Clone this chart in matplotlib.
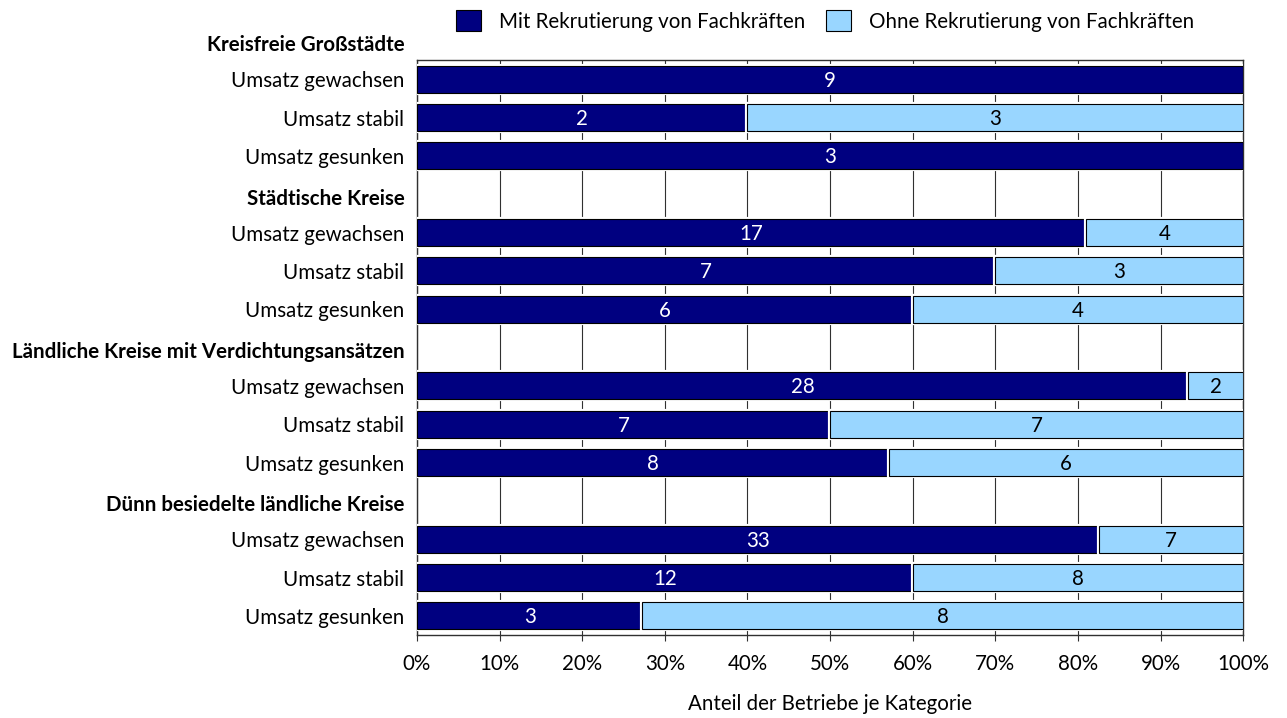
import numpy as np
import matplotlib
matplotlib.use("Agg")
import matplotlib.pyplot as plt
import matplotlib.transforms as mtransforms
from matplotlib import patheffects as pe
from matplotlib.patches import Patch

plt.rcParams['font.family'] = ['Lato', 'DejaVu Sans']

# Daten (Anzahl Betriebe)
groups = ["Kreisfreie Großstädte", "Städtische Kreise",
          "Ländliche Kreise mit Verdichtungsansätzen",
          "Dünn besiedelte ländliche Kreise"]
rows = ["Umsatz gewachsen", "Umsatz stabil", "Umsatz gesunken"]
mit = [9, 2, 3, 17, 7, 6, 28, 7, 8, 33, 12, 3]
ohne = [0, 3, 0, 4, 3, 4, 2, 7, 6, 7, 8, 8]
x_ticks = [0, 10, 20, 30, 40, 50, 60, 70, 80, 90, 100]

navy = '#000080'
light = '#99d6ff'
fs = 14.8

mit = np.array(mit, dtype=float)
ohne = np.array(ohne, dtype=float)
total = mit + ohne
p_mit = mit / total * 100
p_ohne = ohne / total * 100

# Position: je Gruppe eine Kopfzeile + drei Zeilen
ypos = []
labels = []
for g in range(len(groups)):
    for r in range(len(rows)):
        ypos.append(g * 4 + r)
        labels.append(rows[r])
ypos = np.array(ypos)
head_pos = [g * 4 - 1 for g in range(len(groups))]

fig = plt.figure(figsize=(12.87, 7.18), dpi=100)
ax = fig.add_axes([0.324, 0.1156, 0.642, 0.8008])

stroke = [pe.Stroke(linewidth=3, foreground='white'), pe.Normal()]
b1 = ax.barh(ypos, p_mit, height=0.7, color=navy, edgecolor='black',
             linewidth=0.8, zorder=3)
b2 = ax.barh(ypos, p_ohne, left=p_mit, height=0.7, color=light,
             edgecolor='black', linewidth=0.8, zorder=3)
for bar in list(b1) + list(b2):
    if bar.get_width() > 0:
        bar.set_path_effects(stroke)

for i, y in enumerate(ypos):
    if mit[i] > 0:
        ax.text(p_mit[i] / 2, y + 0.04, f"{int(mit[i])}", ha='center', va='center',
                color='white', fontsize=fs, zorder=4)
    if ohne[i] > 0:
        ax.text(p_mit[i] + p_ohne[i] / 2, y + 0.04, f"{int(ohne[i])}", ha='center',
                va='center', color='black', fontsize=fs, zorder=4)

ax.set_xlim(0, 100)
ax.set_ylim(14.5, -0.5)
ax.set_xticks(x_ticks)
ax.set_xticklabels([f"{t}%" for t in x_ticks], fontsize=fs)
ax.set_yticks(ypos)
ax.set_yticklabels(labels, fontsize=fs)
ax.tick_params(axis='y', length=0, pad=9)
ax.tick_params(axis='x', direction='out', length=4, pad=10, color='#303030')
ax.grid(axis='x', color='#303030', linewidth=0.8, zorder=0)
ax.set_axisbelow(True)
for s in ax.spines.values():
    s.set_color('#303030')
    s.set_linewidth(1)

trans = mtransforms.blended_transform_factory(ax.transAxes, ax.transData)
off = mtransforms.ScaledTranslation(-9 / 72, 0, fig.dpi_scale_trans)
for g, hp in enumerate(head_pos):
    ax.text(0, hp + 0.12, groups[g], transform=trans + off, ha='right',
            va='center', fontsize=fs, fontweight='bold', clip_on=False)

ax.set_xlabel("Anteil der Betriebe je Kategorie", fontsize=fs, labelpad=14)

handles = [Patch(facecolor=navy, edgecolor='black', linewidth=0.8),
           Patch(facecolor=light, edgecolor='black', linewidth=0.8)]
fig.legend(handles, ["Mit Rekrutierung von Fachkräften",
                     "Ohne Rekrutierung von Fachkräften"],
           loc='center', bbox_to_anchor=(825 / 1287, 1 - 21 / 718), ncol=2,
           frameon=False, fontsize=fs, handlelength=1.2, handleheight=1.17,
           columnspacing=1.0, handletextpad=0.9)

fig.savefig("out.png", dpi=100)
